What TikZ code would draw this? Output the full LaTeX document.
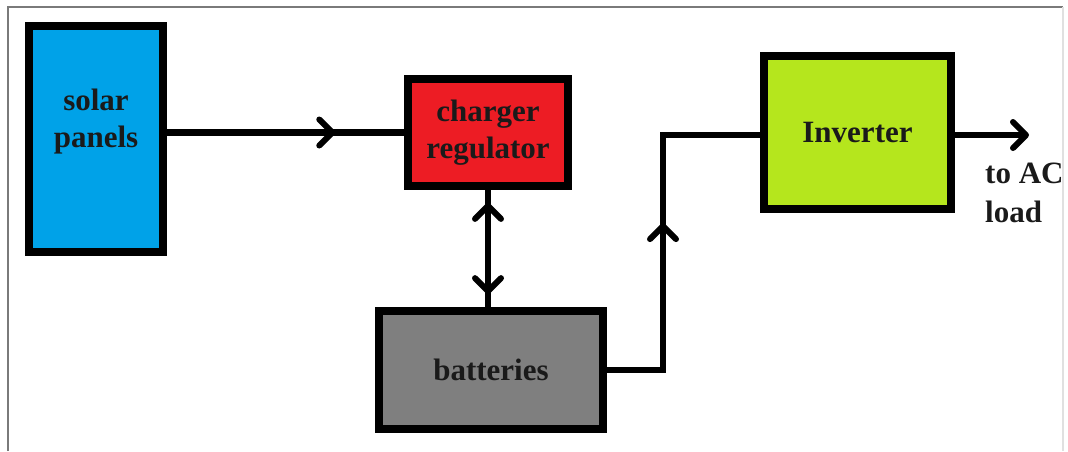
\documentclass[tikz,border=0pt]{standalone}
\usepackage{fontspec}
\setmainfont{Liberation Serif}
\usetikzlibrary{arrows.meta,decorations.markings}
\definecolor{pblue}{HTML}{00A2E8}
\definecolor{pred}{HTML}{ED1C24}
\definecolor{plime}{HTML}{B5E61D}
\definecolor{pgray}{HTML}{7F7F7F}
\definecolor{ink}{HTML}{1A1A1A}
\definecolor{frameg}{HTML}{7A7A7A}
\tikzset{
  blockbox/.style={draw=black, line width=8pt, rectangle, inner sep=0pt, text=ink,
    font=\fontsize{31}{37}\selectfont\bfseries, align=center},
  wire/.style={line width=6.5pt, line join=miter, draw=black},
  barbtip/.tip={Straight Barb[length=13pt,width=26pt,line width=6pt,round]},
  barb/.style={-barbtip},
  midarrow/.style={postaction={decorate, decoration={markings,
    mark=at position #1 with {\arrow{barbtip}}}}},
  midarrowrev/.style={postaction={decorate, decoration={markings,
    mark=at position #1 with {\arrowreversed{barbtip}}}}},
  lbl/.style={inner sep=0pt, text=ink, font=\fontsize{31}{39}\selectfont\bfseries, align=left}
}
\begin{document}
\begin{tikzpicture}[x=1pt,y=-1pt]
\useasboundingbox (0,0) rectangle (1068,451);
% frame
\draw[frameg, line width=2.5pt] (8,451) -- (8,7) -- (1063,7);
\draw[black!12, line width=1.5pt] (1063,7) -- (1063,451);
% blocks
\node[blockbox, fill=pblue, minimum width=134pt, minimum height=226pt,
  label={[text=ink, font=\fontsize{31}{37}\selectfont\bfseries, align=center, yshift=17pt]center:{solar\\panels}}]
  (solar) at (96,139) {};
\node[blockbox, fill=pred, minimum width=160pt, minimum height=107pt] (charger) at (488,132.5) {charger\\regulator};
\node[blockbox, fill=pgray, minimum width=224pt, minimum height=118pt] (bat) at (491,370) {batteries};
\node[blockbox, fill=plime, minimum width=187pt, minimum height=153pt] (inv) at (857.5,132.5) {Inverter};
\node[lbl, anchor=west] (acload) at (985,193) {to AC\\load};
% connectors
\coordinate (bend) at (663,135);
\coordinate (out) at (1029,135);
\draw[wire, midarrow=0.71] (solar.east |- charger.west) -- (charger.west);
\draw[wire, midarrowrev=0.11, midarrow=0.89] (charger.south) -- (charger.south |- bat.north);
\draw[wire, midarrow=0.523] (bat.east) -| (bend) -- (bend -| inv.west);
\draw[wire, barb] (inv.east |- out) -- (out);
\end{tikzpicture}
\end{document}
